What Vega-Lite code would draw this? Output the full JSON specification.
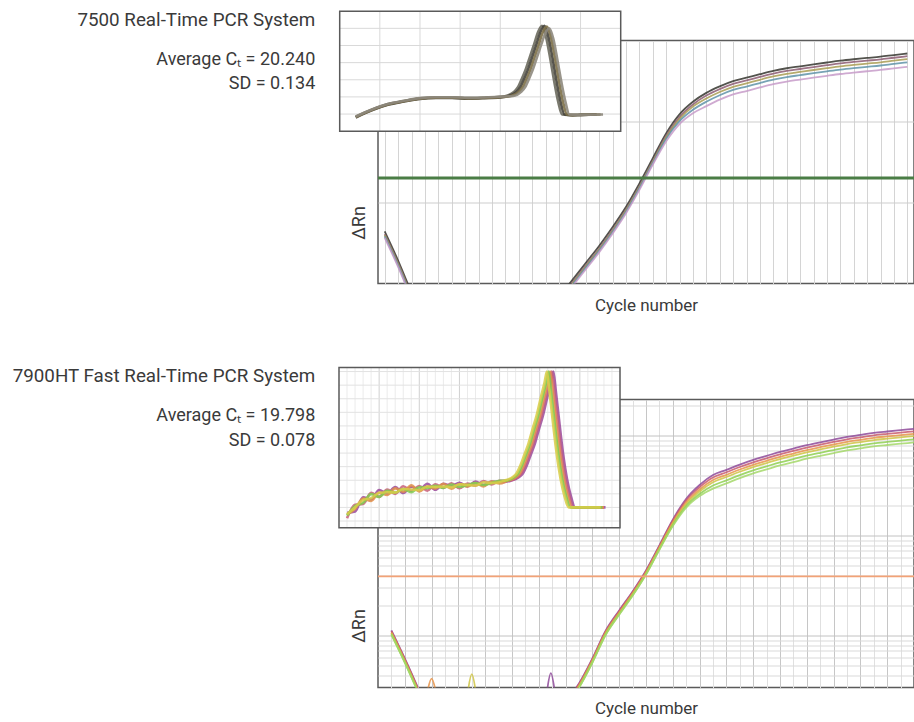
{
"$schema": "https://vega.github.io/schema/vega-lite/v6.json",
"background": "white",
"padding": {"left": 11, "top": 9.5, "right": 0, "bottom": 4},
"config": {"view": {"stroke": null}, "font": "Roboto", "axis": {"titleFont": "Roboto", "titleColor": "#3a3a3a", "titleFontWeight": "normal"}},
"bounds": "flush",
"spacing": 116,
"resolve": {"scale": {"x": "independent", "y": "independent", "color": "independent"}},
"datasets": {
"amp1": [
{"s":"A","p":"e","c":1,"v":0.044},{"s":"A","p":"e","c":2,"v":0.0192},{"s":"A","p":"e","c":3,"v":0.00765},
{"s":"A","p":"a","c":14,"v":0.00681},{"s":"A","p":"a","c":15,"v":0.011},{"s":"A","p":"a","c":16,"v":0.0179},{"s":"A","p":"a","c":17,"v":0.0291},{"s":"A","p":"a","c":18,"v":0.0494},{"s":"A","p":"a","c":19,"v":0.0878},{"s":"A","p":"a","c":20,"v":0.171},{"s":"A","p":"a","c":21,"v":0.35},{"s":"A","p":"a","c":22,"v":0.714},{"s":"A","p":"a","c":23,"v":1.226},{"s":"A","p":"a","c":24,"v":1.752},{"s":"A","p":"a","c":25,"v":2.256},{"s":"A","p":"a","c":26,"v":2.713},{"s":"A","p":"a","c":27,"v":3.15},{"s":"A","p":"a","c":28,"v":3.471},{"s":"A","p":"a","c":29,"v":3.84},{"s":"A","p":"a","c":30,"v":4.221},{"s":"A","p":"a","c":31,"v":4.544},{"s":"A","p":"a","c":32,"v":4.802},{"s":"A","p":"a","c":33,"v":5.075},{"s":"A","p":"a","c":34,"v":5.351},{"s":"A","p":"a","c":35,"v":5.629},{"s":"A","p":"a","c":36,"v":5.868},{"s":"A","p":"a","c":37,"v":6.087},{"s":"A","p":"a","c":38,"v":6.316},{"s":"A","p":"a","c":39,"v":6.614},{"s":"A","p":"a","c":40,"v":6.909},
{"s":"B","p":"e","c":1,"v":0.0407},{"s":"B","p":"e","c":2,"v":0.0178},{"s":"B","p":"e","c":3,"v":0.00708},
{"s":"B","p":"a","c":14,"v":0.00631},{"s":"B","p":"a","c":15,"v":0.0102},{"s":"B","p":"a","c":16,"v":0.0166},{"s":"B","p":"a","c":17,"v":0.0269},{"s":"B","p":"a","c":18,"v":0.0457},{"s":"B","p":"a","c":19,"v":0.0813},{"s":"B","p":"a","c":20,"v":0.158},{"s":"B","p":"a","c":21,"v":0.324},{"s":"B","p":"a","c":22,"v":0.661},{"s":"B","p":"a","c":23,"v":1.135},{"s":"B","p":"a","c":24,"v":1.622},{"s":"B","p":"a","c":25,"v":2.089},{"s":"B","p":"a","c":26,"v":2.512},{"s":"B","p":"a","c":27,"v":2.917},{"s":"B","p":"a","c":28,"v":3.214},{"s":"B","p":"a","c":29,"v":3.556},{"s":"B","p":"a","c":30,"v":3.908},{"s":"B","p":"a","c":31,"v":4.207},{"s":"B","p":"a","c":32,"v":4.446},{"s":"B","p":"a","c":33,"v":4.699},{"s":"B","p":"a","c":34,"v":4.955},{"s":"B","p":"a","c":35,"v":5.212},{"s":"B","p":"a","c":36,"v":5.433},{"s":"B","p":"a","c":37,"v":5.636},{"s":"B","p":"a","c":38,"v":5.848},{"s":"B","p":"a","c":39,"v":6.124},{"s":"B","p":"a","c":40,"v":6.397},
{"s":"C","p":"e","c":1,"v":0.0395},{"s":"C","p":"e","c":2,"v":0.0173},{"s":"C","p":"e","c":3,"v":0.00687},
{"s":"C","p":"a","c":14,"v":0.00612},{"s":"C","p":"a","c":15,"v":0.00989},{"s":"C","p":"a","c":16,"v":0.0161},{"s":"C","p":"a","c":17,"v":0.0261},{"s":"C","p":"a","c":18,"v":0.0443},{"s":"C","p":"a","c":19,"v":0.0789},{"s":"C","p":"a","c":20,"v":0.153},{"s":"C","p":"a","c":21,"v":0.314},{"s":"C","p":"a","c":22,"v":0.635},{"s":"C","p":"a","c":23,"v":1.078},{"s":"C","p":"a","c":24,"v":1.525},{"s":"C","p":"a","c":25,"v":1.922},{"s":"C","p":"a","c":26,"v":2.311},{"s":"C","p":"a","c":27,"v":2.684},{"s":"C","p":"a","c":28,"v":2.957},{"s":"C","p":"a","c":29,"v":3.272},{"s":"C","p":"a","c":30,"v":3.595},{"s":"C","p":"a","c":31,"v":3.87},{"s":"C","p":"a","c":32,"v":4.09},{"s":"C","p":"a","c":33,"v":4.323},{"s":"C","p":"a","c":34,"v":4.559},{"s":"C","p":"a","c":35,"v":4.795},{"s":"C","p":"a","c":36,"v":4.998},{"s":"C","p":"a","c":37,"v":5.185},{"s":"C","p":"a","c":38,"v":5.38},{"s":"C","p":"a","c":39,"v":5.634},{"s":"C","p":"a","c":40,"v":5.885},
{"s":"D","p":"e","c":1,"v":0.0383},{"s":"D","p":"e","c":2,"v":0.0167},{"s":"D","p":"e","c":3,"v":0.00666},
{"s":"D","p":"a","c":14,"v":0.00593},{"s":"D","p":"a","c":15,"v":0.00959},{"s":"D","p":"a","c":16,"v":0.0156},{"s":"D","p":"a","c":17,"v":0.0253},{"s":"D","p":"a","c":18,"v":0.043},{"s":"D","p":"a","c":19,"v":0.0764},{"s":"D","p":"a","c":20,"v":0.149},{"s":"D","p":"a","c":21,"v":0.305},{"s":"D","p":"a","c":22,"v":0.608},{"s":"D","p":"a","c":23,"v":1.01},{"s":"D","p":"a","c":24,"v":1.395},{"s":"D","p":"a","c":25,"v":1.755},{"s":"D","p":"a","c":26,"v":2.11},{"s":"D","p":"a","c":27,"v":2.45},{"s":"D","p":"a","c":28,"v":2.7},{"s":"D","p":"a","c":29,"v":2.987},{"s":"D","p":"a","c":30,"v":3.283},{"s":"D","p":"a","c":31,"v":3.534},{"s":"D","p":"a","c":32,"v":3.735},{"s":"D","p":"a","c":33,"v":3.947},{"s":"D","p":"a","c":34,"v":4.162},{"s":"D","p":"a","c":35,"v":4.378},{"s":"D","p":"a","c":36,"v":4.564},{"s":"D","p":"a","c":37,"v":4.734},{"s":"D","p":"a","c":38,"v":4.912},{"s":"D","p":"a","c":39,"v":5.144},{"s":"D","p":"a","c":40,"v":5.373},
{"s":"E","p":"e","c":1,"v":0.0366},{"s":"E","p":"e","c":2,"v":0.016},{"s":"E","p":"e","c":3,"v":0.00637},
{"s":"E","p":"a","c":14,"v":0.00568},{"s":"E","p":"a","c":15,"v":0.00918},{"s":"E","p":"a","c":16,"v":0.0149},{"s":"E","p":"a","c":17,"v":0.0242},{"s":"E","p":"a","c":18,"v":0.0411},{"s":"E","p":"a","c":19,"v":0.0732},{"s":"E","p":"a","c":20,"v":0.142},{"s":"E","p":"a","c":21,"v":0.292},{"s":"E","p":"a","c":22,"v":0.568},{"s":"E","p":"a","c":23,"v":0.931},{"s":"E","p":"a","c":24,"v":1.265},{"s":"E","p":"a","c":25,"v":1.546},{"s":"E","p":"a","c":26,"v":1.859},{"s":"E","p":"a","c":27,"v":2.159},{"s":"E","p":"a","c":28,"v":2.378},{"s":"E","p":"a","c":29,"v":2.631},{"s":"E","p":"a","c":30,"v":2.892},{"s":"E","p":"a","c":31,"v":3.113},{"s":"E","p":"a","c":32,"v":3.29},{"s":"E","p":"a","c":33,"v":3.477},{"s":"E","p":"a","c":34,"v":3.667},{"s":"E","p":"a","c":35,"v":3.857},{"s":"E","p":"a","c":36,"v":4.02},{"s":"E","p":"a","c":37,"v":4.171},{"s":"E","p":"a","c":38,"v":4.328},{"s":"E","p":"a","c":39,"v":4.532},{"s":"E","p":"a","c":40,"v":4.734}
],
"amp2": [
{"s":"P","p":"e","c":1,"v":0.01126},{"s":"P","p":"e","c":2,"v":0.0059},{"s":"P","p":"e","c":3,"v":0.00296},
{"s":"P","p":"s","c":12.6,"v":0.0027},{"s":"P","p":"s","c":12.9,"v":0.0042},{"s":"P","p":"s","c":13.2,"v":0.0027},
{"s":"P","p":"a","c":14,"v":0.00219},{"s":"P","p":"a","c":15,"v":0.00332},{"s":"P","p":"a","c":16,"v":0.0059},{"s":"P","p":"a","c":17,"v":0.01126},{"s":"P","p":"a","c":18,"v":0.01783},{"s":"P","p":"a","c":19,"v":0.0276},{"s":"P","p":"a","c":20,"v":0.0448},{"s":"P","p":"a","c":21,"v":0.0797},{"s":"P","p":"a","c":22,"v":0.1443},{"s":"P","p":"a","c":23,"v":0.233},{"s":"P","p":"a","c":24,"v":0.3201},{"s":"P","p":"a","c":25,"v":0.402},{"s":"P","p":"a","c":26,"v":0.4532},{"s":"P","p":"a","c":27,"v":0.512},{"s":"P","p":"a","c":28,"v":0.5704},{"s":"P","p":"a","c":29,"v":0.6255},{"s":"P","p":"a","c":30,"v":0.6859},{"s":"P","p":"a","c":31,"v":0.74},{"s":"P","p":"a","c":32,"v":0.8002},{"s":"P","p":"a","c":33,"v":0.8555},{"s":"P","p":"a","c":34,"v":0.9103},{"s":"P","p":"a","c":35,"v":0.9688},{"s":"P","p":"a","c":36,"v":1.0144},{"s":"P","p":"a","c":37,"v":1.0622},{"s":"P","p":"a","c":38,"v":1.097},{"s":"P","p":"a","c":39,"v":1.1304},{"s":"P","p":"a","c":40,"v":1.1647},
{"s":"Q","p":"e","c":1,"v":0.01104},{"s":"Q","p":"e","c":2,"v":0.00579},{"s":"Q","p":"e","c":3,"v":0.0029},
{"s":"Q","p":"a","c":14,"v":0.00215},{"s":"Q","p":"a","c":15,"v":0.00325},{"s":"Q","p":"a","c":16,"v":0.00579},{"s":"Q","p":"a","c":17,"v":0.01104},{"s":"Q","p":"a","c":18,"v":0.01749},{"s":"Q","p":"a","c":19,"v":0.0271},{"s":"Q","p":"a","c":20,"v":0.044},{"s":"Q","p":"a","c":21,"v":0.0782},{"s":"Q","p":"a","c":22,"v":0.1403},{"s":"Q","p":"a","c":23,"v":0.2245},{"s":"Q","p":"a","c":24,"v":0.3043},{"s":"Q","p":"a","c":25,"v":0.3804},{"s":"Q","p":"a","c":26,"v":0.4289},{"s":"Q","p":"a","c":27,"v":0.4845},{"s":"Q","p":"a","c":28,"v":0.5399},{"s":"Q","p":"a","c":29,"v":0.592},{"s":"Q","p":"a","c":30,"v":0.6491},{"s":"Q","p":"a","c":31,"v":0.7003},{"s":"Q","p":"a","c":32,"v":0.7574},{"s":"Q","p":"a","c":33,"v":0.8096},{"s":"Q","p":"a","c":34,"v":0.8616},{"s":"Q","p":"a","c":35,"v":0.9169},{"s":"Q","p":"a","c":36,"v":0.96},{"s":"Q","p":"a","c":37,"v":1.0053},{"s":"Q","p":"a","c":38,"v":1.0383},{"s":"Q","p":"a","c":39,"v":1.0699},{"s":"Q","p":"a","c":40,"v":1.1023},
{"s":"R","p":"e","c":1,"v":0.01072},{"s":"R","p":"e","c":2,"v":0.00562},{"s":"R","p":"e","c":3,"v":0.00282},
{"s":"R","p":"s","c":3.7,"v":0.0028},{"s":"R","p":"s","c":4.0,"v":0.0037},{"s":"R","p":"s","c":4.3,"v":0.0028},
{"s":"R","p":"a","c":14,"v":0.00209},{"s":"R","p":"a","c":15,"v":0.00316},{"s":"R","p":"a","c":16,"v":0.00562},{"s":"R","p":"a","c":17,"v":0.01072},{"s":"R","p":"a","c":18,"v":0.01698},{"s":"R","p":"a","c":19,"v":0.0263},{"s":"R","p":"a","c":20,"v":0.0427},{"s":"R","p":"a","c":21,"v":0.0759},{"s":"R","p":"a","c":22,"v":0.1349},{"s":"R","p":"a","c":23,"v":0.2138},{"s":"R","p":"a","c":24,"v":0.2884},{"s":"R","p":"a","c":25,"v":0.3589},{"s":"R","p":"a","c":26,"v":0.4046},{"s":"R","p":"a","c":27,"v":0.4571},{"s":"R","p":"a","c":28,"v":0.5093},{"s":"R","p":"a","c":29,"v":0.5585},{"s":"R","p":"a","c":30,"v":0.6124},{"s":"R","p":"a","c":31,"v":0.6607},{"s":"R","p":"a","c":32,"v":0.7145},{"s":"R","p":"a","c":33,"v":0.7638},{"s":"R","p":"a","c":34,"v":0.8128},{"s":"R","p":"a","c":35,"v":0.865},{"s":"R","p":"a","c":36,"v":0.9057},{"s":"R","p":"a","c":37,"v":0.9484},{"s":"R","p":"a","c":38,"v":0.9795},{"s":"R","p":"a","c":39,"v":1.0093},{"s":"R","p":"a","c":40,"v":1.0399},
{"s":"S","p":"e","c":1,"v":0.01051},{"s":"S","p":"e","c":2,"v":0.00551},{"s":"S","p":"e","c":3,"v":0.00276},
{"s":"S","p":"s","c":6.7,"v":0.0027},{"s":"S","p":"s","c":7.0,"v":0.0041},{"s":"S","p":"s","c":7.3,"v":0.0027},
{"s":"S","p":"a","c":14,"v":0.00205},{"s":"S","p":"a","c":15,"v":0.0031},{"s":"S","p":"a","c":16,"v":0.00551},{"s":"S","p":"a","c":17,"v":0.01051},{"s":"S","p":"a","c":18,"v":0.01664},{"s":"S","p":"a","c":19,"v":0.0258},{"s":"S","p":"a","c":20,"v":0.0418},{"s":"S","p":"a","c":21,"v":0.0744},{"s":"S","p":"a","c":22,"v":0.1309},{"s":"S","p":"a","c":23,"v":0.2052},{"s":"S","p":"a","c":24,"v":0.2754},{"s":"S","p":"a","c":25,"v":0.341},{"s":"S","p":"a","c":26,"v":0.3844},{"s":"S","p":"a","c":27,"v":0.4342},{"s":"S","p":"a","c":28,"v":0.4838},{"s":"S","p":"a","c":29,"v":0.5306},{"s":"S","p":"a","c":30,"v":0.5818},{"s":"S","p":"a","c":31,"v":0.6277},{"s":"S","p":"a","c":32,"v":0.6788},{"s":"S","p":"a","c":33,"v":0.7256},{"s":"S","p":"a","c":34,"v":0.7722},{"s":"S","p":"a","c":35,"v":0.8218},{"s":"S","p":"a","c":36,"v":0.8604},{"s":"S","p":"a","c":37,"v":0.901},{"s":"S","p":"a","c":38,"v":0.9305},{"s":"S","p":"a","c":39,"v":0.9588},{"s":"S","p":"a","c":40,"v":0.9879},
{"s":"U","p":"e","c":1,"v":0.01029},{"s":"U","p":"e","c":2,"v":0.0054},{"s":"U","p":"e","c":3,"v":0.00271},
{"s":"U","p":"a","c":14,"v":0.00201},{"s":"U","p":"a","c":15,"v":0.00303},{"s":"U","p":"a","c":16,"v":0.0054},{"s":"U","p":"a","c":17,"v":0.01029},{"s":"U","p":"a","c":18,"v":0.0163},{"s":"U","p":"a","c":19,"v":0.0252},{"s":"U","p":"a","c":20,"v":0.041},{"s":"U","p":"a","c":21,"v":0.0729},{"s":"U","p":"a","c":22,"v":0.1268},{"s":"U","p":"a","c":23,"v":0.1967},{"s":"U","p":"a","c":24,"v":0.2596},{"s":"U","p":"a","c":25,"v":0.3158},{"s":"U","p":"a","c":26,"v":0.356},{"s":"U","p":"a","c":27,"v":0.4022},{"s":"U","p":"a","c":28,"v":0.4482},{"s":"U","p":"a","c":29,"v":0.4915},{"s":"U","p":"a","c":30,"v":0.5389},{"s":"U","p":"a","c":31,"v":0.5814},{"s":"U","p":"a","c":32,"v":0.6288},{"s":"U","p":"a","c":33,"v":0.6721},{"s":"U","p":"a","c":34,"v":0.7153},{"s":"U","p":"a","c":35,"v":0.7612},{"s":"U","p":"a","c":36,"v":0.797},{"s":"U","p":"a","c":37,"v":0.8346},{"s":"U","p":"a","c":38,"v":0.862},{"s":"U","p":"a","c":39,"v":0.8882},{"s":"U","p":"a","c":40,"v":0.9151},
{"s":"V","p":"e","c":1,"v":0.01018},{"s":"V","p":"e","c":2,"v":0.00534},{"s":"V","p":"e","c":3,"v":0.00268},
{"s":"V","p":"a","c":14,"v":0.00199},{"s":"V","p":"a","c":15,"v":0.003},{"s":"V","p":"a","c":16,"v":0.00534},{"s":"V","p":"a","c":17,"v":0.01018},{"s":"V","p":"a","c":18,"v":0.01613},{"s":"V","p":"a","c":19,"v":0.025},{"s":"V","p":"a","c":20,"v":0.0406},{"s":"V","p":"a","c":21,"v":0.0721},{"s":"V","p":"a","c":22,"v":0.1241},{"s":"V","p":"a","c":23,"v":0.1903},{"s":"V","p":"a","c":24,"v":0.248},{"s":"V","p":"a","c":25,"v":0.2943},{"s":"V","p":"a","c":26,"v":0.3318},{"s":"V","p":"a","c":27,"v":0.3748},{"s":"V","p":"a","c":28,"v":0.4176},{"s":"V","p":"a","c":29,"v":0.458},{"s":"V","p":"a","c":30,"v":0.5022},{"s":"V","p":"a","c":31,"v":0.5418},{"s":"V","p":"a","c":32,"v":0.5859},{"s":"V","p":"a","c":33,"v":0.6263},{"s":"V","p":"a","c":34,"v":0.6665},{"s":"V","p":"a","c":35,"v":0.7093},{"s":"V","p":"a","c":36,"v":0.7427},{"s":"V","p":"a","c":37,"v":0.7777},{"s":"V","p":"a","c":38,"v":0.8032},{"s":"V","p":"a","c":39,"v":0.8276},{"s":"V","p":"a","c":40,"v":0.8527}
],
"mc1": [
{"s":"I1","t":62,"d":-0.03},{"s":"I1","t":64,"d":0.052},{"s":"I1","t":66,"d":0.116},{"s":"I1","t":68,"d":0.152},{"s":"I1","t":70,"d":0.183},{"s":"I1","t":72,"d":0.193},{"s":"I1","t":74,"d":0.193},{"s":"I1","t":76,"d":0.186},{"s":"I1","t":78,"d":0.19},{"s":"I1","t":80,"d":0.2},{"s":"I1","t":80.7,"d":0.21},{"s":"I1","t":81.7,"d":0.259},{"s":"I1","t":82.2,"d":0.314},{"s":"I1","t":82.7,"d":0.415},{"s":"I1","t":83.2,"d":0.53},{"s":"I1","t":83.7,"d":0.67},{"s":"I1","t":84.2,"d":0.81},{"s":"I1","t":84.7,"d":0.955},{"s":"I1","t":85.2,"d":1.03},{"s":"I1","t":85.7,"d":0.9},{"s":"I1","t":86.2,"d":0.66},{"s":"I1","t":86.7,"d":0.39},{"s":"I1","t":87.2,"d":0.15},{"s":"I1","t":87.7,"d":-0.005},{"s":"I1","t":89,"d":-0.012},{"s":"I1","t":90,"d":-0.01},{"s":"I1","t":92,"d":-0.006},
{"s":"I2","t":62,"d":-0.04},{"s":"I2","t":64,"d":0.044},{"s":"I2","t":66,"d":0.108},{"s":"I2","t":68,"d":0.146},{"s":"I2","t":70,"d":0.177},{"s":"I2","t":72,"d":0.187},{"s":"I2","t":74,"d":0.187},{"s":"I2","t":76,"d":0.18},{"s":"I2","t":78,"d":0.185},{"s":"I2","t":80,"d":0.194},{"s":"I2","t":81,"d":0.21},{"s":"I2","t":82,"d":0.259},{"s":"I2","t":82.5,"d":0.314},{"s":"I2","t":83,"d":0.415},{"s":"I2","t":83.5,"d":0.53},{"s":"I2","t":84,"d":0.67},{"s":"I2","t":84.5,"d":0.81},{"s":"I2","t":85,"d":0.955},{"s":"I2","t":85.5,"d":1.03},{"s":"I2","t":86,"d":0.9},{"s":"I2","t":86.5,"d":0.66},{"s":"I2","t":87,"d":0.39},{"s":"I2","t":87.5,"d":0.15},{"s":"I2","t":88,"d":-0.005},{"s":"I2","t":89,"d":-0.012},{"s":"I2","t":90,"d":-0.01},{"s":"I2","t":92,"d":-0.006},
{"s":"I3","t":62,"d":-0.035},{"s":"I3","t":64,"d":0.048},{"s":"I3","t":66,"d":0.112},{"s":"I3","t":68,"d":0.149},{"s":"I3","t":70,"d":0.18},{"s":"I3","t":72,"d":0.19},{"s":"I3","t":74,"d":0.19},{"s":"I3","t":76,"d":0.183},{"s":"I3","t":78,"d":0.188},{"s":"I3","t":80,"d":0.197},{"s":"I3","t":81.3,"d":0.21},{"s":"I3","t":82.3,"d":0.259},{"s":"I3","t":82.8,"d":0.314},{"s":"I3","t":83.3,"d":0.415},{"s":"I3","t":83.8,"d":0.53},{"s":"I3","t":84.3,"d":0.67},{"s":"I3","t":84.8,"d":0.81},{"s":"I3","t":85.3,"d":0.955},{"s":"I3","t":85.8,"d":1.02},{"s":"I3","t":86.3,"d":0.9},{"s":"I3","t":86.8,"d":0.66},{"s":"I3","t":87.3,"d":0.39},{"s":"I3","t":87.8,"d":0.15},{"s":"I3","t":88.3,"d":-0.005},{"s":"I3","t":89,"d":-0.012},{"s":"I3","t":90,"d":-0.01},{"s":"I3","t":92.5,"d":-0.006},
{"s":"I4","t":62,"d":-0.029},{"s":"I4","t":64,"d":0.054},{"s":"I4","t":66,"d":0.118},{"s":"I4","t":68,"d":0.155},{"s":"I4","t":70,"d":0.186},{"s":"I4","t":72,"d":0.196},{"s":"I4","t":74,"d":0.196},{"s":"I4","t":76,"d":0.189},{"s":"I4","t":78,"d":0.194},{"s":"I4","t":80,"d":0.203},{"s":"I4","t":81.6,"d":0.21},{"s":"I4","t":82.6,"d":0.259},{"s":"I4","t":83.1,"d":0.314},{"s":"I4","t":83.6,"d":0.415},{"s":"I4","t":84.1,"d":0.53},{"s":"I4","t":84.6,"d":0.67},{"s":"I4","t":85.1,"d":0.81},{"s":"I4","t":85.6,"d":0.94},{"s":"I4","t":86.1,"d":1.0},{"s":"I4","t":86.6,"d":0.88},{"s":"I4","t":87.1,"d":0.64},{"s":"I4","t":87.6,"d":0.38},{"s":"I4","t":88.1,"d":0.15},{"s":"I4","t":88.6,"d":-0.005},{"s":"I4","t":89.5,"d":-0.01},{"s":"I4","t":91,"d":-0.008},{"s":"I4","t":92.8,"d":-0.006}
],
"mc2": [
{"s":"J1","t":61,"d":-0.04},{"s":"J1","t":62,"d":-0.03},{"s":"J1","t":63,"d":0.075},{"s":"J1","t":64,"d":0.058},{"s":"J1","t":65,"d":0.128},{"s":"J1","t":66,"d":0.102},{"s":"J1","t":67,"d":0.15},{"s":"J1","t":68,"d":0.106},{"s":"J1","t":69,"d":0.152},{"s":"J1","t":70,"d":0.128},{"s":"J1","t":71,"d":0.174},{"s":"J1","t":72,"d":0.13},{"s":"J1","t":73,"d":0.174},{"s":"J1","t":74,"d":0.158},{"s":"J1","t":75,"d":0.181},{"s":"J1","t":76,"d":0.155},{"s":"J1","t":77,"d":0.19},{"s":"J1","t":78,"d":0.165},{"s":"J1","t":79,"d":0.19},{"s":"J1","t":80,"d":0.186},{"s":"J1","t":81.4,"d":0.197},{"s":"J1","t":82.4,"d":0.222},{"s":"J1","t":82.9,"d":0.25},{"s":"J1","t":83.4,"d":0.31},{"s":"J1","t":83.9,"d":0.39},{"s":"J1","t":84.4,"d":0.47},{"s":"J1","t":84.9,"d":0.575},{"s":"J1","t":85.4,"d":0.675},{"s":"J1","t":85.9,"d":0.8},{"s":"J1","t":86.4,"d":0.92},{"s":"J1","t":86.7,"d":1.0},{"s":"J1","t":87,"d":0.86},{"s":"J1","t":87.4,"d":0.65},{"s":"J1","t":87.9,"d":0.4},{"s":"J1","t":88.4,"d":0.21},{"s":"J1","t":88.9,"d":0.08},{"s":"J1","t":89.4,"d":0},{"s":"J1","t":90.4,"d":0},{"s":"J1","t":92.4,"d":0},{"s":"J1","t":93.2,"d":0},
{"s":"J2","t":61,"d":-0.08},{"s":"J2","t":62,"d":0.02},{"s":"J2","t":63,"d":0.025},{"s":"J2","t":64,"d":0.108},{"s":"J2","t":65,"d":0.078},{"s":"J2","t":66,"d":0.132},{"s":"J2","t":67,"d":0.1},{"s":"J2","t":68,"d":0.156},{"s":"J2","t":69,"d":0.122},{"s":"J2","t":70,"d":0.158},{"s":"J2","t":71,"d":0.124},{"s":"J2","t":72,"d":0.17},{"s":"J2","t":73,"d":0.144},{"s":"J2","t":74,"d":0.178},{"s":"J2","t":75,"d":0.141},{"s":"J2","t":76,"d":0.175},{"s":"J2","t":77,"d":0.16},{"s":"J2","t":78,"d":0.195},{"s":"J2","t":79,"d":0.17},{"s":"J2","t":80,"d":0.196},{"s":"J2","t":81.2,"d":0.197},{"s":"J2","t":82.2,"d":0.222},{"s":"J2","t":82.7,"d":0.25},{"s":"J2","t":83.2,"d":0.31},{"s":"J2","t":83.7,"d":0.39},{"s":"J2","t":84.2,"d":0.47},{"s":"J2","t":84.7,"d":0.575},{"s":"J2","t":85.2,"d":0.675},{"s":"J2","t":85.7,"d":0.8},{"s":"J2","t":86.2,"d":0.92},{"s":"J2","t":86.5,"d":1.0},{"s":"J2","t":86.8,"d":0.86},{"s":"J2","t":87.2,"d":0.65},{"s":"J2","t":87.7,"d":0.4},{"s":"J2","t":88.2,"d":0.21},{"s":"J2","t":88.7,"d":0.08},{"s":"J2","t":89.2,"d":0},{"s":"J2","t":90.2,"d":0},{"s":"J2","t":92.2,"d":0},{"s":"J2","t":93,"d":0},
{"s":"J3","t":61,"d":-0.05},{"s":"J3","t":62,"d":-0.01},{"s":"J3","t":63,"d":0.065},{"s":"J3","t":64,"d":0.048},{"s":"J3","t":65,"d":0.108},{"s":"J3","t":66,"d":0.092},{"s":"J3","t":67,"d":0.14},{"s":"J3","t":68,"d":0.116},{"s":"J3","t":69,"d":0.162},{"s":"J3","t":70,"d":0.118},{"s":"J3","t":71,"d":0.154},{"s":"J3","t":72,"d":0.14},{"s":"J3","t":73,"d":0.174},{"s":"J3","t":74,"d":0.138},{"s":"J3","t":75,"d":0.171},{"s":"J3","t":76,"d":0.155},{"s":"J3","t":77,"d":0.18},{"s":"J3","t":78,"d":0.155},{"s":"J3","t":79,"d":0.19},{"s":"J3","t":80,"d":0.176},{"s":"J3","t":81,"d":0.197},{"s":"J3","t":82,"d":0.222},{"s":"J3","t":82.5,"d":0.25},{"s":"J3","t":83,"d":0.31},{"s":"J3","t":83.5,"d":0.39},{"s":"J3","t":84,"d":0.47},{"s":"J3","t":84.5,"d":0.575},{"s":"J3","t":85,"d":0.675},{"s":"J3","t":85.5,"d":0.8},{"s":"J3","t":86,"d":0.92},{"s":"J3","t":86.3,"d":1.0},{"s":"J3","t":86.6,"d":0.86},{"s":"J3","t":87,"d":0.65},{"s":"J3","t":87.5,"d":0.4},{"s":"J3","t":88,"d":0.21},{"s":"J3","t":88.5,"d":0.08},{"s":"J3","t":89,"d":0},{"s":"J3","t":90,"d":0},{"s":"J3","t":92,"d":0},{"s":"J3","t":93,"d":0},
{"s":"J4","t":61,"d":-0.06},{"s":"J4","t":62,"d":0.01},{"s":"J4","t":63,"d":0.035},{"s":"J4","t":64,"d":0.098},{"s":"J4","t":65,"d":0.078},{"s":"J4","t":66,"d":0.122},{"s":"J4","t":67,"d":0.11},{"s":"J4","t":68,"d":0.136},{"s":"J4","t":69,"d":0.112},{"s":"J4","t":70,"d":0.148},{"s":"J4","t":71,"d":0.144},{"s":"J4","t":72,"d":0.16},{"s":"J4","t":73,"d":0.144},{"s":"J4","t":74,"d":0.168},{"s":"J4","t":75,"d":0.151},{"s":"J4","t":76,"d":0.165},{"s":"J4","t":77,"d":0.18},{"s":"J4","t":78,"d":0.165},{"s":"J4","t":79,"d":0.18},{"s":"J4","t":80,"d":0.196},{"s":"J4","t":80.8,"d":0.197},{"s":"J4","t":81.8,"d":0.222},{"s":"J4","t":82.3,"d":0.25},{"s":"J4","t":82.8,"d":0.31},{"s":"J4","t":83.3,"d":0.39},{"s":"J4","t":83.8,"d":0.47},{"s":"J4","t":84.3,"d":0.575},{"s":"J4","t":84.8,"d":0.675},{"s":"J4","t":85.3,"d":0.8},{"s":"J4","t":85.8,"d":0.92},{"s":"J4","t":86.1,"d":1.0},{"s":"J4","t":86.4,"d":0.86},{"s":"J4","t":86.8,"d":0.65},{"s":"J4","t":87.3,"d":0.4},{"s":"J4","t":87.8,"d":0.21},{"s":"J4","t":88.3,"d":0.08},{"s":"J4","t":88.8,"d":0},{"s":"J4","t":89.8,"d":0},{"s":"J4","t":91.8,"d":0},{"s":"J4","t":92.8,"d":0},
{"s":"J5","t":61,"d":-0.05},{"s":"J5","t":62,"d":0.0},{"s":"J5","t":63,"d":0.055},{"s":"J5","t":64,"d":0.068},{"s":"J5","t":65,"d":0.108},{"s":"J5","t":66,"d":0.112},{"s":"J5","t":67,"d":0.11},{"s":"J5","t":68,"d":0.136},{"s":"J5","t":69,"d":0.132},{"s":"J5","t":70,"d":0.128},{"s":"J5","t":71,"d":0.154},{"s":"J5","t":72,"d":0.15},{"s":"J5","t":73,"d":0.154},{"s":"J5","t":74,"d":0.148},{"s":"J5","t":75,"d":0.171},{"s":"J5","t":76,"d":0.165},{"s":"J5","t":77,"d":0.16},{"s":"J5","t":78,"d":0.185},{"s":"J5","t":79,"d":0.18},{"s":"J5","t":80,"d":0.186},{"s":"J5","t":80.6,"d":0.197},{"s":"J5","t":81.6,"d":0.222},{"s":"J5","t":82.1,"d":0.25},{"s":"J5","t":82.6,"d":0.31},{"s":"J5","t":83.1,"d":0.39},{"s":"J5","t":83.6,"d":0.47},{"s":"J5","t":84.1,"d":0.575},{"s":"J5","t":84.6,"d":0.675},{"s":"J5","t":85.1,"d":0.8},{"s":"J5","t":85.6,"d":0.92},{"s":"J5","t":85.9,"d":1.0},{"s":"J5","t":86.2,"d":0.86},{"s":"J5","t":86.6,"d":0.65},{"s":"J5","t":87.1,"d":0.4},{"s":"J5","t":87.6,"d":0.21},{"s":"J5","t":88.1,"d":0.08},{"s":"J5","t":88.6,"d":0},{"s":"J5","t":89.6,"d":0},{"s":"J5","t":91.6,"d":0},{"s":"J5","t":92.6,"d":0}
],
"g1v": [{"t":65},{"t":70},{"t":75},{"t":80},{"t":85},{"t":90}],
"g1h": [{"d":0},{"d":0.2},{"d":0.4},{"d":0.6},{"d":0.8},{"d":1.0}],
"g2v": [{"t":61},{"t":62},{"t":63},{"t":64},{"t":65},{"t":66},{"t":67},{"t":68},{"t":69},{"t":70},{"t":71},{"t":72},{"t":73},{"t":74},{"t":75},{"t":76},{"t":77},{"t":78},{"t":79},{"t":80},{"t":81},{"t":82},{"t":83},{"t":84},{"t":85},{"t":86},{"t":87},{"t":88},{"t":89},{"t":90},{"t":91},{"t":92},{"t":93},{"t":94}],
"g2h": [{"d":-0.1},{"d":0},{"d":0.1},{"d":0.2},{"d":0.3},{"d":0.4},{"d":0.5},{"d":0.6},{"d":0.7},{"d":0.8},{"d":0.9},{"d":1.0}]
},
"vconcat": [
{
"width": 536, "height": 243,
"title": {"text": "7500 Real-Time PCR System", "subtitle": ["Average Cₜ = 20.240", "SD = 0.134"], "anchor": "start", "frame": "group", "orient": "top", "align": "right", "baseline": "top", "offset": 0, "dx": -62.7, "dy": 82.8, "font": "Roboto", "fontSize": 18.8, "fontWeight": "normal", "color": "#3a3a3a", "subtitleFont": "Roboto", "subtitleFontSize": 18, "subtitleColor": "#3a3a3a", "subtitlePadding": 21.2, "subtitleLineHeight": 24},
"view": {"stroke": "#5a5a5a", "strokeWidth": 1.5},
"resolve": {"scale": {"x": "independent", "y": "independent", "color": "independent"}},
"layer": [
{
"layer": [
{
"data": {"name": "amp1"},
"mark": {"type": "line", "clip": true, "strokeWidth": 1.8, "opacity": 0.85, "interpolate": "monotone"},
"encoding": {
"x": {"field": "c", "type": "quantitative", "scale": {"domain": [0.5, 40.5], "nice": false, "zero": false},
"axis": {"values": [1,2,3,4,5,6,7,8,9,10,11,12,13,14,15,16,17,18,19,20,21,22,23,24,25,26,27,28,29,30,31,32,33,34,35,36,37,38,39,40], "grid": true, "gridColor": "#d4d4d4", "labels": false, "ticks": false, "domain": false, "title": "Cycle number", "titleFontSize": 17, "titleX": 268, "titleY": 27, "titleAlign": "center", "titleBaseline": "alphabetic"}},
"y": {"field": "v", "type": "quantitative", "scale": {"type": "log", "domain": [0.01, 10], "nice": false},
"axis": {"values": [0.1, 1], "grid": true, "gridColor": "#cdcdcd", "labels": false, "ticks": false, "domain": false, "title": "ΔRn", "titleFontSize": 18, "titleX": -14, "titleY": 182, "titleAngle": -90, "titleAlign": "center", "titleBaseline": "alphabetic"}},
"color": {"field": "s", "type": "nominal", "scale": {"domain": ["A","B","C","D","E"], "range": ["#35352e","#8c5c72","#a99c52","#5f93a8","#c79bc9"]}, "legend": null},
"detail": {"field": "p"}
}
},
{
"data": {"values": [{}]},
"mark": {"type": "rule", "color": "#4a7d45", "strokeWidth": 3},
"encoding": {"y": {"datum": 0.2}}
}
]
},
{
"layer": [
{
"data": {"values": [{}]},
"mark": {"type": "rect", "fill": "white"},
"encoding": {
"x": {"datum": 60, "type": "quantitative", "scale": {"domain": [64.7705, 131.532], "nice": false, "zero": false}, "axis": null},
"x2": {"datum": 95},
"y": {"datum": -0.2, "type": "quantitative", "scale": {"domain": [-1.97683, 0.85817], "nice": false, "zero": false}, "axis": null},
"y2": {"datum": 1.2}
}
},
{
"data": {"name": "g1v"},
"mark": {"type": "rule", "color": "#d9d9d9", "strokeWidth": 1},
"encoding": {
"x": {"field": "t", "type": "quantitative", "scale": {"domain": [64.7705, 131.532], "nice": false, "zero": false}, "axis": null},
"y": {"datum": -0.2, "type": "quantitative", "scale": {"domain": [-1.97683, 0.85817], "nice": false, "zero": false}, "axis": null},
"y2": {"datum": 1.2}
}
},
{
"data": {"name": "g1h"},
"mark": {"type": "rule", "color": "#d9d9d9", "strokeWidth": 1},
"encoding": {
"y": {"field": "d", "type": "quantitative", "scale": {"domain": [-1.97683, 0.85817], "nice": false, "zero": false}, "axis": null},
"x": {"datum": 60, "type": "quantitative", "scale": {"domain": [64.7705, 131.532], "nice": false, "zero": false}, "axis": null},
"x2": {"datum": 95}
}
},
{
"data": {"name": "mc1"},
"mark": {"type": "line", "strokeWidth": 2.6, "opacity": 0.9, "interpolate": "monotone"},
"encoding": {
"x": {"field": "t", "type": "quantitative", "scale": {"domain": [64.7705, 131.532], "nice": false, "zero": false}, "axis": null},
"y": {"field": "d", "type": "quantitative", "scale": {"domain": [-1.97683, 0.85817], "nice": false, "zero": false}, "axis": null},
"color": {"field": "s", "type": "nominal", "scale": {"domain": ["I1","I2","I3","I4"], "range": ["#6b6a5e","#46443c","#7d7048","#8e8a7e"]}, "legend": null}
}
},
{
"data": {"values": [{}]},
"mark": {"type": "rect", "filled": false, "stroke": "#5a5a5a", "strokeWidth": 1.5},
"encoding": {
"x": {"datum": 60, "type": "quantitative", "scale": {"domain": [64.7705, 131.532], "nice": false, "zero": false}, "axis": null},
"x2": {"datum": 95},
"y": {"datum": -0.2, "type": "quantitative", "scale": {"domain": [-1.97683, 0.85817], "nice": false, "zero": false}, "axis": null},
"y2": {"datum": 1.2}
}
}
]
}
]
},
{
"width": 536, "height": 288,
"title": {"text": "7900HT Fast Real-Time PCR System", "subtitle": ["Average Cₜ = 19.798", "SD = 0.078"], "anchor": "start", "frame": "group", "orient": "top", "align": "right", "baseline": "top", "offset": 0, "dx": -62.7, "dy": 84.0, "font": "Roboto", "fontSize": 18.8, "fontWeight": "normal", "color": "#3a3a3a", "subtitleFont": "Roboto", "subtitleFontSize": 18, "subtitleColor": "#3a3a3a", "subtitlePadding": 21.2, "subtitleLineHeight": 25},
"view": {"stroke": "#5a5a5a", "strokeWidth": 1.5},
"resolve": {"scale": {"x": "independent", "y": "independent", "color": "independent"}},
"layer": [
{
"layer": [
{
"data": {"name": "amp2"},
"mark": {"type": "line", "clip": true, "strokeWidth": 1.8, "opacity": 0.85, "interpolate": "monotone"},
"encoding": {
"x": {"field": "c", "type": "quantitative", "scale": {"domain": [0, 40], "nice": false, "zero": false},
"axis": {"values": [1,2,3,4,5,6,7,8,9,10,11,12,13,14,15,16,17,18,19,20,21,22,23,24,25,26,27,28,29,30,31,32,33,34,35,36,37,38,39], "grid": true, "gridColor": {"condition": {"test": "datum.value % 2 === 0", "value": "#c6c6c6"}, "value": "#e0e0e0"}, "labels": false, "ticks": false, "domain": false, "title": "Cycle number", "titleFontSize": 17, "titleX": 268, "titleY": 26, "titleAlign": "center", "titleBaseline": "alphabetic"}},
"y": {"field": "v", "type": "quantitative", "scale": {"type": "log", "domain": [0.00302, 2.291], "nice": false},
"axis": {"values": [0.004,0.005,0.006,0.007,0.008,0.009,0.01,0.02,0.03,0.04,0.05,0.06,0.07,0.08,0.09,0.1,0.2,0.3,0.4,0.5,0.6,0.7,0.8,0.9,1,2], "grid": true, "gridColor": {"condition": {"test": "datum.value === 0.01 || datum.value === 0.1 || datum.value === 1", "value": "#c2c2c2"}, "value": "#d9d9d9"}, "labels": false, "ticks": false, "domain": false, "title": "ΔRn", "titleFontSize": 18, "titleX": -14, "titleY": 226, "titleAngle": -90, "titleAlign": "center", "titleBaseline": "alphabetic"}},
"color": {"field": "s", "type": "nominal", "scale": {"domain": ["P","Q","R","S","U","V"], "range": ["#8e4a9a","#c85a6e","#e8944a","#cfc445","#8fd052","#a4d86a"]}, "legend": null},
"detail": {"field": "p"}
}
},
{
"data": {"values": [{}]},
"mark": {"type": "rule", "color": "#f2a277", "strokeWidth": 1.6},
"encoding": {"y": {"datum": 0.039}}
}
]
},
{
"layer": [
{
"data": {"values": [{}]},
"mark": {"type": "rect", "fill": "white"},
"encoding": {
"x": {"datum": 60, "type": "quantitative", "scale": {"domain": [64.8577, 131.619], "nice": false, "zero": false}, "axis": null},
"x2": {"datum": 95},
"y": {"datum": -0.15, "type": "quantitative", "scale": {"domain": [-1.32559, 0.79444], "nice": false, "zero": false}, "axis": null},
"y2": {"datum": 1.03}
}
},
{
"data": {"name": "g2v"},
"mark": {"type": "rule", "strokeWidth": 1},
"encoding": {
"x": {"field": "t", "type": "quantitative", "scale": {"domain": [64.8577, 131.619], "nice": false, "zero": false}, "axis": null},
"y": {"datum": -0.15, "type": "quantitative", "scale": {"domain": [-1.32559, 0.79444], "nice": false, "zero": false}, "axis": null},
"y2": {"datum": 1.03},
"color": {"condition": {"test": "datum.t % 5 === 0", "value": "#d0d0d0"}, "value": "#ebebeb"}
}
},
{
"data": {"name": "g2h"},
"mark": {"type": "rule", "color": "#e2e2e2", "strokeWidth": 1},
"encoding": {
"y": {"field": "d", "type": "quantitative", "scale": {"domain": [-1.32559, 0.79444], "nice": false, "zero": false}, "axis": null},
"x": {"datum": 60, "type": "quantitative", "scale": {"domain": [64.8577, 131.619], "nice": false, "zero": false}, "axis": null},
"x2": {"datum": 95}
}
},
{
"data": {"name": "mc2"},
"mark": {"type": "line", "strokeWidth": 2.6, "opacity": 0.85, "interpolate": "monotone"},
"encoding": {
"x": {"field": "t", "type": "quantitative", "scale": {"domain": [64.8577, 131.619], "nice": false, "zero": false}, "axis": null},
"y": {"field": "d", "type": "quantitative", "scale": {"domain": [-1.32559, 0.79444], "nice": false, "zero": false}, "axis": null},
"color": {"field": "s", "type": "nominal", "scale": {"domain": ["J1","J2","J3","J4","J5"], "range": ["#9a4a9a","#c8607a","#e0904a","#80cc50","#d8cc48"]}, "legend": null}
}
},
{
"data": {"values": [{}]},
"mark": {"type": "rect", "filled": false, "stroke": "#5a5a5a", "strokeWidth": 1.5},
"encoding": {
"x": {"datum": 60, "type": "quantitative", "scale": {"domain": [64.8577, 131.619], "nice": false, "zero": false}, "axis": null},
"x2": {"datum": 95},
"y": {"datum": -0.15, "type": "quantitative", "scale": {"domain": [-1.32559, 0.79444], "nice": false, "zero": false}, "axis": null},
"y2": {"datum": 1.03}
}
}
]
}
]
}
]
}
